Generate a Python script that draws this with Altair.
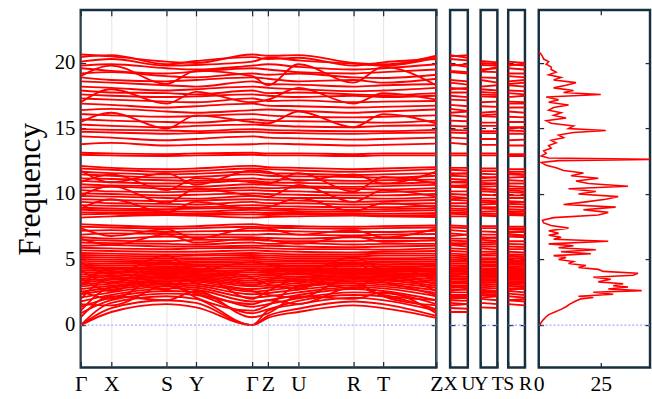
import json

import altair as alt
import pandas as pd

# High-symmetry points and the k-path through them
POINTS = ["Γ", "X", "S", "Y", "Z", "U", "R", "T"]
PATH = ["Γ", "X", "S", "Y", "Γ", "Z", "U", "R", "T", "Z"]
PATH_DIST = [0, 31, 87, 117, 174, 190, 221, 277, 307, 361]
FREQ_TICKS = [0, 5, 10, 15, 20]

# Band frequencies at [Γ, X, S, Y, Z, U, R, T]
BANDS_LOW = [
    [0.0, 1.0, 1.6, 1.35, 0.55, 1.0, 1.5, 1.3],
    [0.0, 1.3, 1.9, 1.7, 0.7, 1.25, 1.8, 1.6],
    [0.0, 1.7, 2.2, 2.0, 1.1, 1.6, 2.1, 1.9],
    [0.9, 1.9, 2.4, 2.3, 1.2, 1.85, 2.3, 2.2],
    [1.4, 2.1, 2.6, 2.5, 1.6, 2.05, 2.5, 2.45],
    [1.8, 2.3, 2.8, 2.7, 1.9, 2.3, 2.75, 2.6],
    [2.1, 2.5, 2.95, 2.85, 2.2, 2.5, 2.9, 2.8],
    [2.35, 2.7, 3.1, 3.0, 2.45, 2.7, 3.05, 2.95],
    [2.55, 2.85, 3.2, 3.15, 2.65, 2.9, 3.2, 3.1],
    [2.75, 3.0, 3.35, 3.3, 2.85, 3.05, 3.35, 3.25],
    [2.95, 3.15, 3.45, 3.4, 3.0, 3.2, 3.45, 3.4],
    [3.1, 3.3, 3.55, 3.5, 3.2, 3.35, 3.55, 3.5],
    [3.25, 3.45, 3.65, 3.6, 3.35, 3.45, 3.65, 3.6],
    [3.4, 3.55, 3.75, 3.7, 3.5, 3.6, 3.75, 3.7],
    [3.55, 3.7, 3.85, 3.8, 3.65, 3.7, 3.85, 3.8],
    [3.7, 3.8, 3.95, 3.9, 3.8, 3.85, 3.95, 3.9],
    [3.85, 3.95, 4.05, 4.0, 3.9, 3.95, 4.05, 4.0],
    [4.0, 4.05, 4.15, 4.1, 4.05, 4.1, 4.15, 4.1],
    [4.15, 4.2, 4.25, 4.2, 4.2, 4.2, 4.25, 4.2],
    [4.3, 4.3, 4.35, 4.35, 4.3, 4.35, 4.35, 4.3],
    [4.45, 4.4, 4.45, 4.5, 4.45, 4.45, 4.5, 4.45],
    [4.6, 4.55, 4.6, 4.6, 4.6, 4.55, 4.6, 4.6],
    [4.75, 4.7, 4.7, 4.75, 4.7, 4.7, 4.7, 4.75],
    [4.9, 4.85, 4.8, 4.85, 4.85, 4.85, 4.8, 4.85],
    [5.05, 5.0, 4.95, 5.0, 5.0, 4.95, 4.95, 5.0],
    [5.2, 5.15, 5.1, 5.1, 5.15, 5.1, 5.1, 5.1],
    [5.35, 5.3, 5.25, 5.3, 5.3, 5.25, 5.25, 5.3],
    [5.5, 5.45, 5.4, 5.4, 5.45, 5.4, 5.4, 5.45],
    [1.1, 2.9, 3.3, 2.1, 1.5, 3.0, 3.2, 2.2],
    [2.0, 3.6, 2.7, 3.9, 2.6, 3.5, 2.8, 3.8],
    [3.0, 4.3, 3.8, 4.6, 3.4, 4.2, 3.9, 4.5],
    [4.2, 3.2, 4.9, 3.6, 4.0, 3.3, 4.8, 3.7],
    [0.6, 2.2, 1.9, 2.6, 0.9, 2.2, 2.0, 2.5],
    [1.6, 1.5, 3.0, 2.4, 1.9, 1.6, 2.9, 2.3],
    [2.6, 2.0, 3.9, 3.2, 2.3, 2.1, 3.7, 3.3],
    [3.6, 2.6, 4.4, 4.3, 3.1, 2.8, 4.3, 4.1],
    [4.8, 3.9, 5.3, 4.2, 4.6, 4.0, 5.2, 4.3],
]

BANDS_MID = [
    [7.2, 7.25, 7.1, 7.15, 7.2, 7.15, 7.1, 7.1],
    [6.9, 7.0, 6.95, 6.9, 6.95, 6.9, 6.85, 6.9],
    [6.7, 6.6, 6.75, 6.7, 6.65, 6.6, 6.7, 6.65],
    [6.5, 6.45, 6.4, 6.5, 6.45, 6.4, 6.4, 6.45],
    [6.3, 6.25, 6.2, 6.15, 6.2, 6.25, 6.15, 6.2],
    [6.05, 6.1, 6.0, 6.0, 6.05, 6.0, 5.95, 6.0],
    [5.9, 5.85, 5.8, 5.85, 5.85, 5.8, 5.8, 5.75],
    [5.7, 5.65, 5.6, 5.6, 5.65, 5.6, 5.55, 5.6],
    [6.6, 6.1, 6.9, 6.3, 6.5, 6.2, 6.8, 6.35],
    [7.4, 6.8, 7.3, 6.6, 7.35, 6.9, 7.25, 6.7],
]

BANDS_UPPER_MID = [
    [12.15, 12.0, 11.9, 11.95, 12.05, 12.0, 11.9, 11.95],
    [11.95, 11.85, 11.7, 11.75, 11.9, 11.8, 11.7, 11.75],
    [11.7, 11.6, 11.5, 11.55, 11.6, 11.55, 11.45, 11.5],
    [11.5, 11.4, 11.25, 11.3, 11.4, 11.35, 11.3, 11.25],
    [11.2, 11.15, 11.05, 11.0, 11.1, 11.1, 11.0, 11.05],
    [11.0, 10.9, 10.8, 10.85, 10.9, 10.85, 10.8, 10.8],
    [10.75, 10.65, 10.6, 10.55, 10.7, 10.6, 10.55, 10.6],
    [10.5, 10.55, 10.4, 10.35, 10.45, 10.5, 10.4, 10.35],
    [10.3, 10.2, 10.15, 10.2, 10.25, 10.2, 10.1, 10.15],
    [10.05, 10.0, 9.9, 9.95, 10.0, 9.95, 9.9, 9.9],
    [9.85, 9.8, 9.7, 9.65, 9.75, 9.7, 9.7, 9.65],
    [9.6, 9.55, 9.45, 9.5, 9.55, 9.5, 9.4, 9.45],
    [9.4, 9.3, 9.25, 9.2, 9.3, 9.3, 9.2, 9.25],
    [9.15, 9.1, 9.05, 9.0, 9.1, 9.05, 9.0, 9.0],
    [8.95, 8.9, 8.85, 8.9, 8.9, 8.85, 8.8, 8.85],
    [8.8, 8.75, 8.7, 8.65, 8.75, 8.7, 8.65, 8.7],
    [8.6, 8.6, 8.55, 8.5, 8.55, 8.55, 8.5, 8.5],
    [8.45, 8.5, 8.45, 8.4, 8.4, 8.45, 8.4, 8.35],
    [8.2, 8.3, 8.4, 8.35, 8.25, 8.3, 8.35, 8.3],
    [7.7, 7.6, 7.5, 7.55, 7.6, 7.55, 7.5, 7.55],
    [7.5, 7.45, 7.35, 7.4, 7.45, 7.4, 7.35, 7.4],
    [11.8, 10.9, 11.6, 10.7, 11.7, 11.0, 11.5, 10.8],
    [9.9, 10.6, 9.3, 10.4, 9.8, 10.7, 9.4, 10.3],
    [8.9, 9.6, 8.6, 9.4, 9.0, 9.7, 8.7, 9.3],
    [10.9, 11.5, 10.3, 11.2, 10.8, 11.6, 10.2, 11.3],
]

BANDS_HIGH = [
    [20.65, 20.5, 20.1, 20.0, 20.55, 20.6, 20.0, 19.9],
    [20.45, 20.6, 19.9, 20.15, 20.3, 20.4, 19.8, 20.05],
    [20.1, 20.3, 19.8, 19.85, 20.4, 20.2, 19.95, 19.8],
    [19.8, 19.9, 19.6, 19.5, 19.9, 19.7, 19.5, 19.6],
    [19.6, 19.4, 19.2, 19.35, 19.5, 19.3, 19.2, 19.3],
    [19.2, 19.3, 19.0, 18.9, 19.1, 19.2, 18.9, 18.85],
    [18.9, 18.7, 18.6, 18.7, 18.8, 18.6, 18.7, 18.5],
    [18.6, 18.5, 18.3, 18.2, 18.4, 18.35, 18.2, 18.3],
    [18.2, 18.1, 17.9, 18.0, 18.1, 18.0, 17.85, 17.9],
    [17.9, 17.75, 17.7, 17.6, 17.7, 17.75, 17.6, 17.55],
    [17.6, 17.5, 17.4, 17.45, 17.5, 17.4, 17.5, 17.4],
    [17.3, 17.2, 17.05, 17.0, 17.1, 17.15, 17.0, 17.05],
    [16.9, 16.8, 16.6, 16.7, 16.75, 16.7, 16.6, 16.65],
    [16.4, 16.5, 16.3, 16.2, 16.45, 16.35, 16.2, 16.3],
    [16.1, 16.0, 15.9, 15.95, 16.0, 15.9, 15.85, 15.9],
    [15.7, 15.6, 15.5, 15.45, 15.6, 15.55, 15.5, 15.45],
    [15.3, 15.2, 15.1, 15.2, 15.25, 15.15, 15.1, 15.2],
    [14.95, 14.9, 14.85, 14.8, 14.9, 14.85, 14.8, 14.8],
    [14.75, 14.7, 14.6, 14.65, 14.7, 14.65, 14.6, 14.65],
    [14.4, 14.3, 14.1, 14.2, 14.3, 14.25, 14.15, 14.2],
    [13.8, 13.9, 13.7, 13.75, 13.85, 13.8, 13.7, 13.75],
    [13.15, 13.1, 13.05, 13.1, 13.1, 13.1, 13.05, 13.1],
    [13.0, 12.95, 12.9, 12.95, 12.95, 12.95, 12.9, 12.95],
    [19.0, 19.8, 18.4, 19.4, 18.3, 19.9, 18.5, 19.7],
    [17.0, 18.0, 16.9, 17.8, 17.2, 18.1, 16.9, 17.7],
    [15.5, 16.2, 15.0, 16.0, 15.4, 16.3, 15.1, 16.1],
]

# Phonon density of states
dos_freq = [
    0.0, 0.2, 0.4, 0.6, 0.8, 1.0, 1.2, 1.4, 1.6, 1.8,
    2.0, 2.1, 2.2, 2.35, 2.5, 2.63, 2.75, 2.9, 3.0, 3.15,
    3.3, 3.5, 3.65, 3.8, 3.95, 4.1, 4.25, 4.4, 4.55, 4.7,
    4.85, 5.0, 5.15, 5.3, 5.45, 5.6, 5.75, 5.9, 6.05, 6.2,
    6.4, 6.55, 6.7, 6.85, 7.0, 7.2, 7.4, 7.6, 7.8, 8.0,
    8.2, 8.4, 8.6, 8.8, 9.0, 9.2, 9.4, 9.6, 9.8, 10.0,
    10.2, 10.4, 10.6, 10.8, 11.0, 11.2, 11.4, 11.6, 11.8, 12.0,
    12.2, 12.4, 12.55, 12.65, 12.75, 12.9, 13.1, 13.3, 13.5, 13.7,
    13.9, 14.1, 14.3, 14.5, 14.7, 14.85, 15.0, 15.2, 15.4, 15.6,
    15.8, 16.0, 16.2, 16.4, 16.6, 16.8, 17.0, 17.2, 17.4, 17.6,
    17.75, 17.9, 18.1, 18.3, 18.5, 18.7, 18.9, 19.1, 19.3, 19.5,
    19.7, 19.9, 20.1, 20.3, 20.5, 20.7, 20.85,
]
dos_states = [
    0.5, 1.0, 1.8, 2.8, 4.0, 6.5, 9.0, 11.0, 12.5, 14.5,
    17.0, 22.0, 16.0, 30.0, 22.0, 41.5, 28.0, 36.0, 30.0, 34.0,
    24.0, 29.0, 22.0, 38.0, 40.0, 26.0, 24.0, 16.0, 19.0, 12.0,
    14.0, 8.0, 11.0, 6.0, 21.0, 9.0, 23.0, 8.0, 14.0, 4.0,
    28.0, 6.0, 9.0, 4.0, 8.0, 4.0, 12.0, 5.0, 2.0, 1.5,
    6.0, 24.0, 28.0, 18.0, 31.0, 10.0, 19.0, 27.0, 32.0, 16.0,
    23.0, 12.0, 36.0, 20.0, 15.0, 24.0, 13.0, 18.0, 10.0, 7.0,
    3.0, 1.0, 8.0, 47.0, 4.0, 1.0, 3.0, 2.0, 5.0, 4.0,
    7.0, 5.0, 10.0, 8.0, 14.0, 27.0, 12.0, 14.0, 5.0, 3.0,
    11.0, 6.0, 9.0, 4.0, 6.0, 12.0, 4.0, 8.0, 3.0, 25.0,
    10.0, 14.0, 6.0, 11.0, 15.0, 6.0, 9.0, 4.0, 7.0, 5.0,
    5.0, 3.0, 4.0, 2.0, 1.5, 0.8, 0.0,
]
DOS_TICKS = [0, 25]

RED = "#ff0000"
FRAME = "#17303f"
ZERO_BLUE = "#8c8cff"
SERIF = "Liberation Serif"
FREQ_DOMAIN = [-3.23, 24.05]
PANEL_H = 363
BAND_WIDTH = 1.9

all_bands = BANDS_LOW + BANDS_MID + BANDS_UPPER_MID + BANDS_HIGH

path_rows = []
for b, vals in enumerate(all_bands):
    at = dict(zip(POINTS, vals))
    for lab, d in zip(PATH, PATH_DIST):
        path_rows.append({"band": b, "k": d, "freq": at[lab]})
path_df = pd.DataFrame(path_rows)


def side_segment(start, end):
    rows = []
    for b, vals in enumerate(all_bands):
        at = dict(zip(POINTS, vals))
        rows.append({"band": b, "k": 0, "freq": at[start]})
        rows.append({"band": b, "k": 1, "freq": at[end]})
    return pd.DataFrame(rows)


dos_df = pd.DataFrame({"freq": dos_freq, "states": dos_states})
zero_df = pd.DataFrame({"f": [0.0]})

freq_scale = alt.Scale(domain=FREQ_DOMAIN, nice=False, zero=False)


def tick_axis(orient, values, size=5):
    return alt.Axis(orient=orient, values=values, tickSize=size, offset=-size,
                    domain=False, labels=False, grid=False, title=None,
                    tickColor=FRAME, tickWidth=1.3)


def label_axis(orient, values, expr, size=6, font_size=22, grid=False):
    return alt.Axis(orient=orient, values=values, labelExpr=expr, tickSize=size,
                    offset=-size, domain=False, grid=grid, gridColor="#c8c8c8",
                    gridOpacity=0.5, gridWidth=1, title=None, tickColor=FRAME,
                    tickWidth=1.3, labelFont=SERIF, labelFontSize=font_size,
                    labelColor="black", labelPadding=6, labelFlush=False,
                    labelOverlap=False)


def zero_line():
    return alt.Chart(zero_df).mark_rule(
        color=ZERO_BLUE, strokeDash=[2, 2], strokeWidth=1
    ).encode(y=alt.Y("f:Q", scale=freq_scale, axis=None))


def band_panel(df, width, x_dom, bottom, top, left, right):
    xs = alt.Scale(domain=x_dom, nice=False, zero=False)
    lines = alt.Chart(df).mark_line(
        color=RED, strokeWidth=BAND_WIDTH, interpolate="monotone", clip=True
    ).encode(
        x=alt.X("k:Q", scale=xs, axis=bottom),
        y=alt.Y("freq:Q", scale=freq_scale, axis=left),
        detail="band:N",
    )
    frame_ticks = alt.Chart(pd.DataFrame({"k": [x_dom[0]], "freq": [0.0]})).mark_point(
        opacity=0
    ).encode(
        x=alt.X("k:Q", scale=xs, axis=top),
        y=alt.Y("freq:Q", scale=freq_scale, axis=right),
    )
    return alt.layer(lines, zero_line(), frame_ticks).resolve_axis(
        x="independent", y="independent"
    ).properties(width=width, height=PANEL_H)


path_expr = "{}[indexof({}, datum.value)]".format(
    json.dumps(PATH, ensure_ascii=False), json.dumps(PATH_DIST)
)

freq_axis = alt.Axis(
    orient="left", values=FREQ_TICKS, tickSize=5, offset=-5, domain=False,
    grid=False, title="Frequency", titleFont=SERIF, titleFontSize=32,
    titleFontWeight="normal", titleColor="black", titlePadding=8,
    labelFont=SERIF, labelFontSize=21, labelColor="black", labelPadding=6,
    tickColor=FRAME, tickWidth=1.3,
)

main = band_panel(
    path_df, 361, [0, 361],
    label_axis("bottom", PATH_DIST, path_expr, grid=True),
    tick_axis("top", PATH_DIST, 6),
    freq_axis,
    tick_axis("right", FREQ_TICKS),
)


def side_panel(start, end, width):
    expr = "datum.value == 0 ? '{}' : '{}'".format(start, end)
    return band_panel(
        side_segment(start, end), width, [0, 1],
        label_axis("bottom", [0, 1], expr, font_size=20),
        None,
        tick_axis("left", FREQ_TICKS),
        tick_axis("right", FREQ_TICKS),
    )


p_xu = side_panel("X", "U", 18)
p_yt = side_panel("Y", "T", 17)
p_sr = side_panel("S", "R", 17)

dos_scale = alt.Scale(domain=[0, 44.84], nice=False, zero=False)
dos_line = alt.Chart(dos_df).mark_line(color=RED, strokeWidth=1.6, clip=True).encode(
    x=alt.X("states:Q", scale=dos_scale,
            axis=label_axis("bottom", DOS_TICKS, "format(datum.value, 'd')", 5, 22)),
    y=alt.Y("freq:Q", scale=freq_scale, axis=tick_axis("left", FREQ_TICKS)),
    order="freq:Q",
)
dos_ticks = alt.Chart(pd.DataFrame({"states": [0.0], "freq": [0.0]})).mark_point(
    opacity=0
).encode(
    x=alt.X("states:Q", scale=dos_scale, axis=tick_axis("top", DOS_TICKS)),
    y=alt.Y("freq:Q", scale=freq_scale, axis=tick_axis("right", FREQ_TICKS)),
)
dos = alt.layer(dos_line, zero_line(), dos_ticks).resolve_axis(
    x="independent", y="independent"
).properties(width=113, height=PANEL_H)

chart = alt.hconcat(
    main,
    alt.hconcat(
        p_xu,
        alt.hconcat(
            p_yt,
            alt.hconcat(p_sr, dos, spacing=14, bounds="flush"),
            spacing=11, bounds="flush",
        ),
        spacing=13, bounds="flush",
    ),
    spacing=14, bounds="flush",
).properties(
    padding={"left": 12, "top": 5, "right": 0, "bottom": 0},
    background="white",
).configure_view(stroke=FRAME, strokeWidth=2.5)

chart.save("out.html", embed_options={"renderer": "svg", "actions": False})
